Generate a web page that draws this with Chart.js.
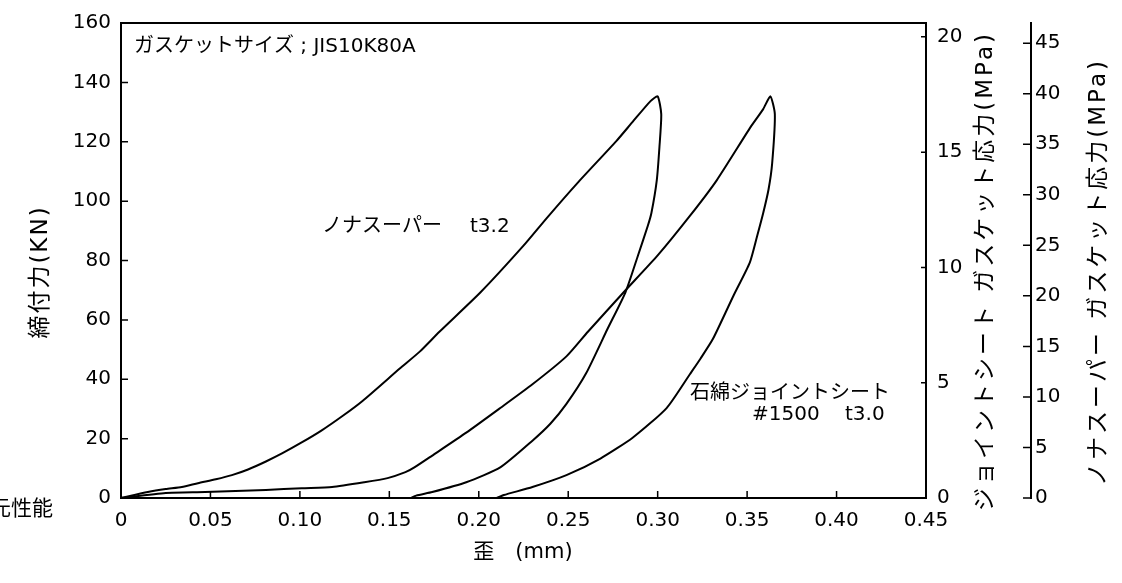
<!DOCTYPE html>
<html lang="ja">
<head>
<meta charset="utf-8">
<title>圧縮復元性能</title>
<script src="https://cdn.jsdelivr.net/npm/chart.js@4.4.1/dist/chart.umd.min.js"></script>
<style>
  html, body { margin: 0; padding: 0; background: #fff; }
  #wrap { width: 1122px; height: 583px; }
</style>
</head>
<body>
<div id="wrap"><canvas id="chart" width="1122" height="583"></canvas></div>
<script>
// --- DATA ---
// x: 歪 (mm), y: 締付力 (kN)
const xTicks = [0, 0.05, 0.10, 0.15, 0.20, 0.25, 0.30, 0.35, 0.40, 0.45]
const xTickLabels = ['0', '0.05', '0.10', '0.15', '0.20', '0.25', '0.30', '0.35', '0.40', '0.45']
const yTicks = [0, 20, 40, 60, 80, 100, 120, 140, 160]
const y1Ticks = [0, 5, 10, 15, 20]            // ジョイントシート stress (MPa)
const y2Ticks = [0, 5, 10, 15, 20, 25, 30, 35, 40, 45] // ノナスーパー stress (MPa)

// ノナスーパー t3.2
const nonaLoadX = [0, 0.002, 0.015, 0.025, 0.034, 0.043, 0.053, 0.062, 0.071, 0.081, 0.090, 0.101, 0.112, 0.124, 0.135, 0.156, 0.167, 0.178, 0.201, 0.225, 0.238, 0.255, 0.277, 0.286, 0.296, 0.300]
const nonaLoadF = [0, 0.3, 2.0, 3.0, 3.7, 5.0, 6.3, 7.7, 9.6, 12.3, 15.0, 18.7, 22.7, 27.7, 32.7, 43.7, 49.3, 56.0, 69.3, 85.0, 94.3, 106.0, 120.3, 126.7, 133.7, 135.3]
const nonaUnloadX = [0.302, 0.301, 0.2995, 0.2965, 0.2945, 0.289, 0.282, 0.272, 0.260, 0.249, 0.240, 0.230, 0.212, 0.193, 0.174, 0.165, 0.162]
const nonaUnloadF = [129.3, 118.3, 107.0, 96.0, 91.7, 81.7, 69.3, 57.0, 42.0, 31.7, 25.0, 19.3, 10.3, 5.3, 2.0, 0.8, 0]

// 石綿ジョイントシート #1500 t3.0
const sheetLoadX = [0, 0.025, 0.047, 0.081, 0.101, 0.118, 0.136, 0.149, 0.159, 0.164, 0.174, 0.193, 0.212, 0.230, 0.249, 0.261, 0.281, 0.300, 0.318, 0.333, 0.352, 0.359, 0.363]
const sheetLoadF = [0, 1.7, 2.0, 2.7, 3.3, 3.7, 5.3, 6.7, 8.7, 10.3, 14.3, 22.0, 30.3, 38.3, 47.7, 56.0, 69.3, 81.7, 95.0, 107.0, 125.0, 131.0, 135.3]
const sheetUnloadX = [0.3655, 0.364, 0.362, 0.359, 0.3555, 0.3515, 0.3425, 0.331, 0.324, 0.318, 0.305, 0.286, 0.268, 0.249, 0.230, 0.214, 0.210]
const sheetUnloadF = [129.3, 112.7, 104.0, 96.0, 88.0, 79.3, 68.3, 53.7, 47.0, 41.7, 30.3, 20.3, 13.3, 7.7, 3.7, 1.0, 0]

const JP = "'DejaVu Sans', 'Noto Sans CJK JP', sans-serif"

function toPoints(xs, ys) {
  return xs.map((x, i) => ({ x: x, y: ys[i] }))
}

// tick marks point inward, plus the top border of the box
const tickMarks = {
  id: 'tickMarks',
  afterDraw(chart) {
    const { ctx, chartArea: a, scales } = chart
    ctx.save()
    ctx.strokeStyle = '#000'
    ctx.lineWidth = 1.5
    ctx.beginPath()
    xTicks.forEach(v => {
      const px = scales.x.getPixelForValue(v)
      ctx.moveTo(px, a.bottom); ctx.lineTo(px, a.bottom - 7)
    })
    yTicks.forEach(v => {
      const py = scales.y.getPixelForValue(v)
      ctx.moveTo(a.left, py); ctx.lineTo(a.left + 7, py)
    })
    y1Ticks.forEach(v => {
      const py = scales.y1.getPixelForValue(v)
      ctx.moveTo(a.right, py); ctx.lineTo(a.right - 5, py)
    })
    const x2 = scales.y2.left
    y2Ticks.forEach(v => {
      const py = scales.y2.getPixelForValue(v)
      ctx.moveTo(x2, py); ctx.lineTo(x2 - 8, py)
    })
    ctx.stroke()
    ctx.lineWidth = 2
    ctx.beginPath()
    ctx.moveTo(a.left, a.top); ctx.lineTo(a.right, a.top)
    ctx.stroke()
    ctx.restore()
  }
}

// axis titles and notes
const notes = {
  id: 'notes',
  afterDraw(chart) {
    const ctx = chart.ctx
    ctx.save()
    ctx.fillStyle = '#000'
    ctx.textBaseline = 'middle'
    ctx.font = '20px ' + JP
    ctx.textAlign = 'left'
    ctx.fillText('ガスケットサイズ ; JIS10K80A', 134, 47)
    ctx.fillText('ノナスーパー', 322, 227)
    ctx.fillText('t3.2', 470, 227)
    ctx.fillText('石綿ジョイントシート', 690, 394)
    ctx.fillText('#1500', 752, 415)
    ctx.fillText('t3.0', 845, 415)
    ctx.textAlign = 'right'
    ctx.font = '21px ' + JP
    ctx.fillText('圧縮復元性能', 53, 510)
    ctx.textAlign = 'center'
    ctx.fillText('歪　(mm)', 523, 553)

    const vertical = (txt, x, y, size, spacing) => {
      ctx.save()
      ctx.translate(x, y)
      ctx.rotate(-Math.PI / 2)
      ctx.font = size + 'px ' + JP
      ctx.letterSpacing = spacing + 'px'
      ctx.textAlign = 'center'
      ctx.fillText(txt, 0, 0)
      ctx.restore()
    }
    vertical('締付力(KN)', 41, 272, 23, 2)
    vertical('ジョイントシート ガスケット応力(MPa)', 986, 271, 23, 3)
    vertical('ノナスーパー ガスケット応力(MPa)', 1099, 272, 23, 3)
    ctx.restore()
  }
}

const tickFont = { family: 'DejaVu Sans', size: 20 }
const noGrid = { display: true, drawOnChartArea: false, drawTicks: false }
const border = { display: true, color: '#000', width: 2 }

new Chart(document.getElementById('chart'), {
  type: 'scatter',
  data: {
    datasets: [
      {
        label: 'ノナスーパー t3.2',
        data: toPoints(nonaLoadX.concat(nonaUnloadX), nonaLoadF.concat(nonaUnloadF)),
        showLine: true,
        borderColor: '#000',
        borderWidth: 2,
        pointRadius: 0,
        tension: 0.2,
        fill: false
      },
      {
        label: '石綿ジョイントシート #1500 t3.0',
        data: toPoints(sheetLoadX.concat(sheetUnloadX), sheetLoadF.concat(sheetUnloadF)),
        showLine: true,
        borderColor: '#000',
        borderWidth: 2,
        pointRadius: 0,
        tension: 0.2,
        fill: false
      }
    ]
  },
  options: {
    responsive: false,
    animation: false,
    layout: { padding: { top: 18, left: 0, right: 0, bottom: 0 } },
    plugins: { legend: { display: false }, tooltip: { enabled: false } },
    scales: {
      x: {
        type: 'linear',
        min: 0,
        max: 0.45,
        afterBuildTicks: s => { s.ticks = xTicks.map(v => ({ value: v })) },
        afterFit: s => { s.height = 85 },
        grid: noGrid,
        border: border,
        ticks: {
          autoSkip: false,
          maxRotation: 0,
          padding: 11,
          color: '#000',
          font: tickFont,
          callback: (v, i) => xTickLabels[i]
        }
      },
      y: {
        position: 'left',
        min: 0,
        max: 160,
        afterBuildTicks: s => { s.ticks = yTicks.map(v => ({ value: v })) },
        afterFit: s => { s.width = 121 },
        grid: noGrid,
        border: border,
        ticks: { padding: 10, color: '#000', font: tickFont }
      },
      y1: {
        position: 'right',
        weight: 0,
        min: 0,
        max: 20.6,
        afterBuildTicks: s => { s.ticks = y1Ticks.map(v => ({ value: v })) },
        afterFit: s => { s.width = 105 },
        grid: noGrid,
        border: border,
        ticks: { padding: 11, color: '#000', font: tickFont }
      },
      y2: {
        position: 'right',
        weight: 1,
        min: 0,
        max: 47,
        afterBuildTicks: s => { s.ticks = y2Ticks.map(v => ({ value: v })) },
        afterFit: s => { s.width = 91 },
        grid: noGrid,
        border: border,
        ticks: { padding: 4, color: '#000', font: tickFont }
      }
    }
  },
  plugins: [tickMarks, notes]
})
</script>
</body>
</html>
